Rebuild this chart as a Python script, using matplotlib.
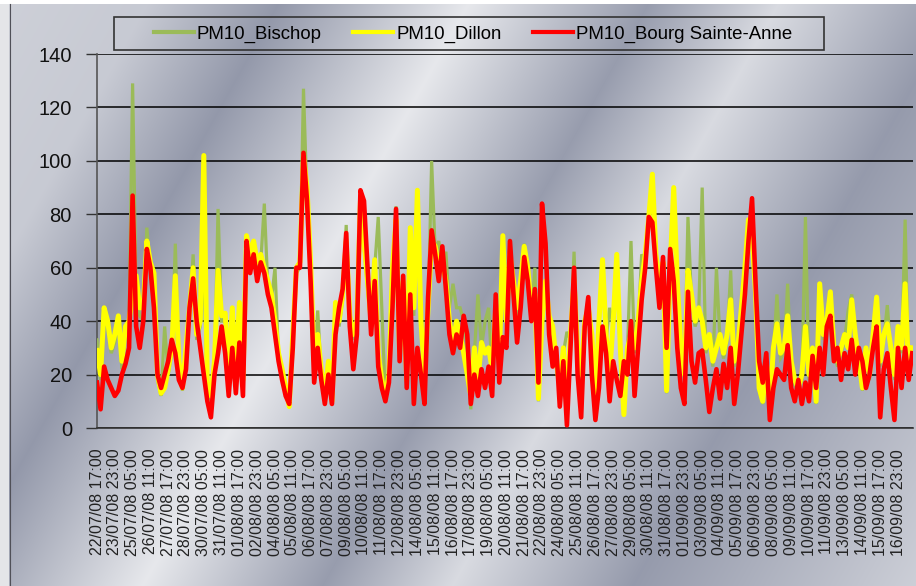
import numpy as np
import pandas as pd
import matplotlib
matplotlib.use("Agg")
import matplotlib.pyplot as plt
from matplotlib.patches import Rectangle
from matplotlib.lines import Line2D

# ---------------- data (6-hourly readings from 22/07/08 17:00) ----------------
step_hours = 6
start_time = "2008-07-22 17:00"

bourg = [17, 7, 23, 18, 15, 12, 14, 20, 24, 30,
         87, 38, 30, 40, 67, 60, 45, 20, 15, 20,
         25, 33, 28, 18, 15, 22, 45, 56, 40, 30,
         20, 10, 4, 20, 28, 38, 28, 12, 30, 13,
         32, 12, 70, 58, 65, 55, 62, 58, 50, 45,
         35, 25, 18, 12, 9, 30, 60, 60, 103, 85,
         55, 17, 30, 18, 9, 20, 9, 35, 45, 52,
         73, 38, 22, 35, 89, 85, 60, 35, 55, 23,
         15, 10, 17, 45, 82, 25, 57, 15, 50, 9,
         30, 20, 9, 49, 74, 65, 55, 68, 52, 35,
         28, 35, 30, 42, 35, 9, 20, 12, 22, 15,
         23, 12, 50, 17, 34, 30, 70, 50, 32, 45,
         64, 55, 40, 52, 17, 84, 69, 35, 23, 30,
         8, 25, 1, 30, 60, 20, 4, 38, 49, 20,
         3, 15, 38, 28, 10, 25, 18, 12, 25, 20,
         40, 12, 30, 48, 60, 79, 77, 60, 45, 64,
         30, 67, 55, 30, 15, 9, 51, 25, 17, 28,
         29, 18, 6, 15, 22, 11, 24, 15, 30, 9,
         20, 35, 50, 70, 86, 54, 25, 17, 28, 3,
         15, 22, 20, 18, 31, 15, 10, 18, 9, 17,
         10, 27, 15, 30, 20, 38, 42, 25, 30, 18,
         28, 22, 33, 20, 30, 25, 15, 20, 30, 38,
         4, 22, 28, 15, 3, 30, 15, 30, 18, 28]

dillon = [29, 20, 45, 40, 30, 35, 42, 25, 38, 40,
          50, 57, 45, 45, 70, 62, 58, 20, 13, 15,
          22, 30, 57, 25, 15, 30, 45, 60, 35, 40,
          102, 15, 12, 25, 59, 42, 43, 20, 45, 20,
          47, 18, 72, 65, 70, 62, 65, 60, 55, 50,
          40, 28, 22, 15, 8, 35, 60, 62, 102, 90,
          62, 25, 35, 22, 12, 25, 10, 47, 40, 50,
          70, 42, 35, 40, 85, 70, 55, 40, 63, 28,
          18, 12, 20, 60, 78, 28, 55, 18, 75, 45,
          89, 40, 20, 45, 70, 68, 60, 62, 55, 40,
          32, 40, 35, 28, 20, 12, 30, 18, 32, 28,
          30, 22, 45, 25, 72, 40, 65, 55, 45, 55,
          68, 60, 45, 50, 11, 40, 55, 42, 38, 25,
          15, 30, 10, 35, 55, 30, 20, 40, 45, 35,
          10, 40, 63, 35, 20, 40, 65, 30, 5, 30,
          35, 30, 40, 55, 65, 79, 95, 65, 55, 62,
          14, 60, 90, 55, 30, 20, 59, 50, 40, 45,
          40, 30, 35, 25, 30, 35, 28, 35, 48, 25,
          30, 45, 60, 78, 72, 50, 15, 10, 25, 8,
          30, 39, 28, 30, 42, 25, 18, 15, 20, 38,
          20, 30, 10, 54, 35, 40, 51, 30, 25, 30,
          35, 30, 48, 35, 25, 15, 30, 20, 35, 49,
          25, 35, 39, 30, 20, 38, 30, 54, 20, 30]

bischop = [33, 18, 40, 38, 28, 32, 40, 22, 35, 40,
           129, 50, 42, 40, 75, 60, 55, 18, 12, 38,
           20, 28, 69, 22, 14, 28, 42, 65, 33, 38,
           60, 14, 10, 22, 82, 40, 40, 18, 42, 18,
           44, 16, 68, 62, 66, 60, 62, 84, 52, 48,
           60, 26, 20, 14, 8, 32, 58, 60, 127, 85,
           58, 22, 44, 20, 10, 22, 9, 45, 38, 48,
           76, 40, 33, 38, 82, 68, 52, 38, 60, 79,
           45, 11, 18, 55, 83, 26, 52, 16, 70, 42,
           85, 38, 18, 42, 100, 66, 70, 60, 66, 45,
           54, 45, 45, 40, 30, 7, 28, 50, 30, 40,
           45, 20, 42, 23, 68, 38, 62, 52, 42, 52,
           69, 58, 42, 60, 10, 38, 52, 40, 36, 23,
           14, 28, 36, 33, 66, 28, 18, 38, 49, 33,
           9, 38, 60, 33, 45, 38, 62, 28, 5, 28,
           70, 28, 38, 65, 62, 76, 90, 62, 52, 60,
           13, 58, 85, 52, 28, 18, 79, 48, 38, 42,
           90, 28, 33, 23, 60, 33, 26, 33, 59, 23,
           28, 42, 58, 75, 70, 48, 14, 9, 23, 7,
           28, 50, 26, 28, 54, 23, 16, 14, 18, 79,
           18, 28, 9, 52, 33, 38, 48, 28, 23, 28,
           33, 44, 50, 33, 23, 14, 28, 18, 33, 46,
           23, 33, 46, 28, 18, 36, 28, 78, 18, 28]

series_names = ["PM10_Bischop", "PM10_Dillon", "PM10_Bourg Sainte-Anne"]
tick_every_hours = 30
n_ticks = 46
y_ticks = [0, 20, 40, 60, 80, 100, 120, 140]

hours = np.arange(len(bourg)) * step_hours
tick_hours = np.arange(n_ticks) * tick_every_hours
tick_labels = [t.strftime("%d/%m/%y %H:%M")
               for t in pd.Timestamp(start_time) + pd.to_timedelta(tick_hours, unit="h")]

# ---------------- figure ----------------
W, H = 916, 586
fig = plt.figure(figsize=(W / 100, H / 100), dpi=100)

# metallic background
yy, xx = np.mgrid[0:H, 0:W]
u = xx + 0.56 * yy
cu = [0, 150, 280, 470, 650, 780, 960, 1250]
ct = [0.72, 0.66, 0.18, 0.95, 0.22, 0.82, 0.2, 0.72]
t = np.interp(u, cu, ct)
dark = np.array([128, 134, 155]) / 255
light = np.array([236, 237, 240]) / 255
img = dark[None, None, :] * (1 - t[..., None]) + light[None, None, :] * t[..., None]
img[:, :9, :] = np.array([228, 229, 232]) / 255
img[:4, :, :] = 1.0
bg = fig.add_axes([0, 0, 1, 1], zorder=-5)
bg.imshow(img, aspect="auto", extent=[0, 1, 0, 1], interpolation="bilinear")
bg.plot([9.5 / W, 9.5 / W], [0, 1 - 4 / H], color="#505058", lw=0.8)
bg.set_xlim(0, 1)
bg.set_ylim(0, 1)
bg.axis("off")

left, right, top, bottom = 97, 913, 54, 428
ax = fig.add_axes([left / W, 1 - bottom / H, (right - left) / W, (bottom - top) / H])
ax.set_facecolor("none")

px_per_hour = (898 - 97) / 1350.0
ax.set_xlim(0, (right - left) / px_per_hour)
ax.set_ylim(0, 140)

l1, = ax.plot(hours, bischop, color="#9BBB59", lw=2.3, zorder=3, solid_joinstyle="miter")
l2, = ax.plot(hours, dillon, color="#FFFF00", lw=3.6, zorder=4, solid_joinstyle="round")
l3, = ax.plot(hours, bourg, color="#FF0000", lw=3.3, zorder=5, solid_joinstyle="round")

ax.set_yticks(y_ticks)
ax.set_yticklabels([str(v) for v in y_ticks], fontsize=14.5, family="Liberation Sans", color="#111111")
ax.set_xticks(tick_hours)
ax.set_xticklabels(tick_labels, rotation=90, fontsize=11.5, family="Liberation Sans", color="#222222")
ax.tick_params(axis="y", length=8, width=1, color="#333333", pad=10, direction="out")
ax.tick_params(axis="x", length=0, pad=15)
ax.grid(axis="y", color="black", lw=1.1, zorder=1)
ax.set_axisbelow(True)
for s in ["top", "right"]:
    ax.spines[s].set_visible(False)
ax.spines["left"].set_color("#555555")
ax.spines["left"].set_linewidth(1.2)
ax.spines["bottom"].set_color("#333333")
ax.spines["bottom"].set_linewidth(1.2)

# legend
fig.add_artist(Rectangle((114 / W, 1 - 50 / H), (824 - 114) / W, 33 / H,
                         transform=fig.transFigure, fill=False, edgecolor="#333333", lw=1.2))
handles = [Line2D([], [], color=c, lw=3) for c in ["#9BBB59", "#FFFF00", "#FF0000"]]
fig.legend(handles, series_names, loc="center", bbox_to_anchor=(473 / W, 1 - 34 / H),
           ncol=3, frameon=False, prop={"family": "Liberation Sans", "size": 13.4},
           handlelength=2.15, handletextpad=0.15, columnspacing=1.7, borderpad=0)

fig.savefig("out.png", dpi=100)
